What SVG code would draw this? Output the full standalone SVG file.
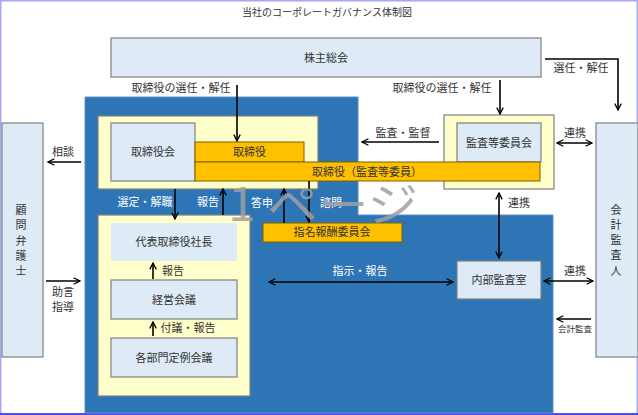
<svg xmlns="http://www.w3.org/2000/svg" width="638" height="415" viewBox="0 0 638 415">
<defs>
<marker id="arr" viewBox="0 0 10 10" refX="9" refY="5" markerWidth="8" markerHeight="8" markerUnits="userSpaceOnUse" orient="auto-start-reverse">
<path d="M1,1 L9,5 L1,9" fill="none" stroke="#000" stroke-width="1.6"/>
</marker>
<style>
text{font-family:"Noto Sans CJK JP","Noto Sans",sans-serif;font-size:11px;fill:#333;text-anchor:middle}
.w{fill:#fff}
.box{fill:#deebf7;stroke:#7f7f7f;stroke-width:1.2}
.yel{fill:#ffffcc;stroke:#7f7f7f;stroke-width:1.2}
.org{fill:#ffc000;stroke:#7f6000;stroke-width:1}
.c path{fill:none;stroke:#000;stroke-width:1.6}
.e{marker-end:url(#arr)}
.b{marker-start:url(#arr);marker-end:url(#arr)}
</style>
</defs>
<rect x="0" y="0" width="638" height="415" fill="#fff"/>
<rect x="0.75" y="0.75" width="636.5" height="413.5" fill="none" stroke="#a8a8f0" stroke-width="1.5"/>
<line x1="0" y1="414" x2="638" y2="414" stroke="#2a2ae0" stroke-width="1.5"/>
<text x="327" y="16" style="font-size:10px">当社のコーポレートガバナンス体制図</text>

<path id="bg" d="M85,97 H358 V215 H553 V413 H85 Z" fill="#2e75b6" stroke="#5b8fc8" stroke-width="1"/>

<g id="kabunushi"><rect class="box" x="111" y="38" width="430" height="39"/><text x="326" y="62">株主総会</text></g>

<g id="torishimariyaku-group"><rect class="yel" x="98" y="116" width="220" height="73"/></g>
<g id="torishimariyakukai"><rect class="box" x="111" y="123" width="84" height="58"/><text x="153" y="156">取締役会</text></g>
<g id="torishimariyaku"><rect class="org" x="195" y="142" width="109" height="20"/><text x="249.5" y="156">取締役</text></g>

<g id="kansa-group"><rect class="yel" x="444" y="115" width="110" height="74"/></g>
<g id="kansatouiinkai"><rect class="box" x="457" y="123" width="84" height="39"/><text x="499" y="147">監査等委員会</text></g>
<g id="torishimariyaku-kansa"><rect class="org" x="195" y="162" width="345" height="19"/><text x="367" y="175.5">取締役（監査等委員）</text></g>

<g id="kaikei"><rect class="box" x="596" y="123" width="42" height="234"/>
<text x="616" y="214">会</text><text x="616" y="229">計</text><text x="616" y="244">監</text><text x="616" y="259">査</text><text x="616" y="275">人</text></g>

<g id="bengoshi"><rect class="box" x="2" y="123" width="41" height="234"/>
<text x="21" y="214">顧</text><text x="21" y="229">問</text><text x="21" y="245">弁</text><text x="21" y="260">護</text><text x="21" y="275">士</text></g>

<g id="shimei"><rect class="org" x="263" y="223" width="139" height="19"/><text x="332" y="236">指名報酬委員会</text></g>
<g id="naibu"><rect class="box" x="457" y="261" width="84" height="38"/><text x="499" y="284">内部監査室</text></g>

<g id="shacho-group"><rect class="yel" x="98" y="215" width="152" height="181"/></g>
<g id="shacho"><rect x="111" y="223" width="126" height="38" fill="#deebf7"/><text x="174" y="246">代表取締役社長</text></g>
<g id="keiei"><rect class="box" x="111" y="280" width="126" height="39"/><text x="174" y="303.5">経営会議</text></g>
<g id="kakubu"><rect class="box" x="111" y="338" width="126" height="39"/><text x="174" y="361.5">各部門定例会議</text></g>

<g id="connectors" class="c">
<path class="e" d="M237,85 V141"/>
<path class="e" d="M500,80 V114"/>
<path class="e" d="M545,59 H618 V110"/>
<path class="e" d="M439,142 H362"/>
<path class="b" d="M557,143 H592"/>
<path class="b" d="M499,193 V258"/>
<path class="b" d="M544,281 H593"/>
<path class="e" d="M591,319 H557"/>
<path class="b" d="M269,282 H453"/>
<path class="e" d="M81,162 H48"/>
<path class="e" d="M46,281 H80"/>
<path class="e" d="M175,189 V219"/>
<path class="e" d="M223,215 V189"/>
<path class="e" d="M284,223 V189"/>
<path class="e" d="M309,181 V222"/>
<path class="e" d="M153,279 V263"/>
<path class="e" d="M153,336 V322"/>
</g>

<g id="labels">
<text x="181" y="92">取締役の選任・解任</text>
<text x="442" y="92">取締役の選任・解任</text>
<text x="581" y="72">選任・解任</text>
<text x="403" y="137">監査・監督</text>
<text x="575" y="137">連携</text>
<text x="519" y="207">連携</text>
<text x="575" y="275">連携</text>
<text x="575" y="332" style="font-size:8.5px">会計監査</text>
<text class="w" x="360" y="275">指示・報告</text>
<text class="w" x="145" y="206">選定・解職</text>
<text class="w" x="208" y="206">報告</text>
<text class="w" x="262" y="207">答申</text>
<text class="w" x="331" y="207">諮問</text>
<text x="173" y="275">報告</text>
<text x="188" y="332">付議・報告</text>
<text x="63" y="156">相談</text>
<text x="63" y="296">助言</text>
<text x="63" y="311">指導</text>
</g>

<text x="228" y="221" textLength="190" lengthAdjust="spacingAndGlyphs" style="font-size:46px;fill:#a0a0a0;fill-opacity:0.85;text-anchor:start;font-family:'Noto Sans CJK JP',sans-serif">1 ページ</text>
</svg>
